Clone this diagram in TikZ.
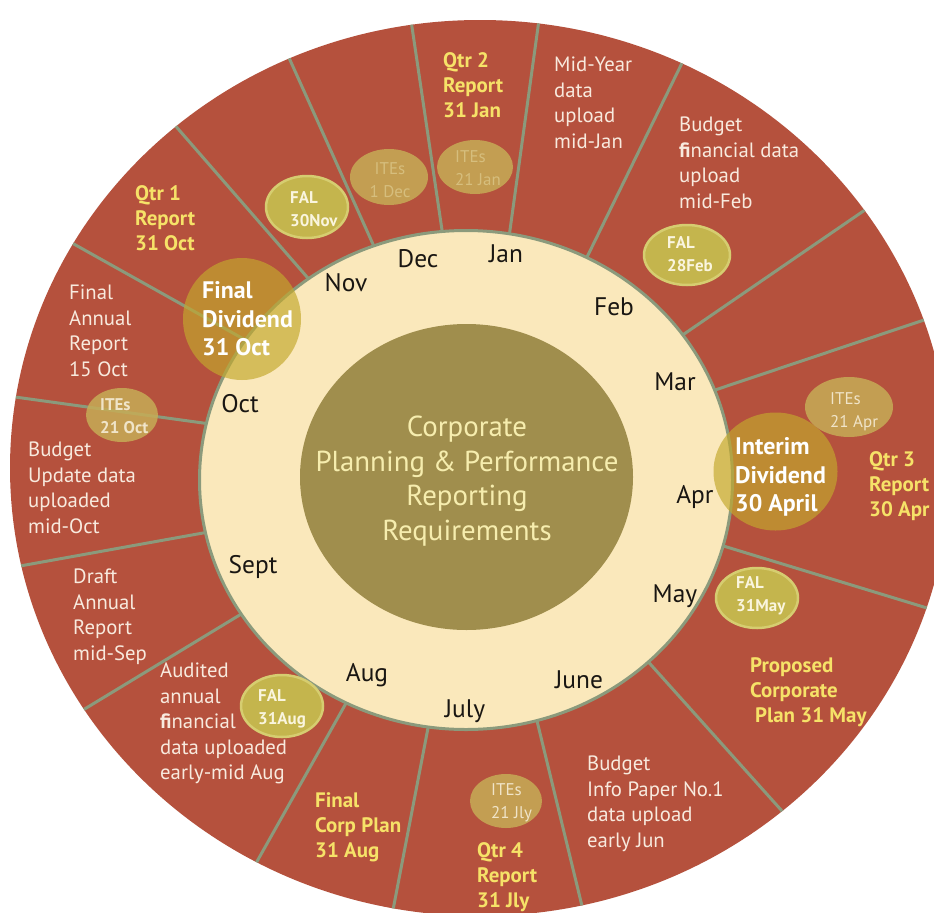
\documentclass[tikz,border=0pt]{standalone}
\usepackage{fontspec}
\setmainfont{PT Sans}
\usetikzlibrary{calc}

\definecolor{brick}{RGB}{181,81,61}
\definecolor{spokegreen}{RGB}{139,154,124}
\definecolor{cream}{RGB}{250,232,187}
\definecolor{olive}{RGB}{160,142,77}
\definecolor{paleyellow}{RGB}{246,237,174}
\definecolor{notewhite}{RGB}{248,234,222}
\definecolor{deadline}{RGB}{246,226,104}
\definecolor{falfill}{RGB}{196,181,77}
\definecolor{falrim}{RGB}{214,205,112}
\definecolor{falink}{RGB}{250,245,222}
\definecolor{itefill}{RGB}{198,172,86}
\definecolor{iteink}{RGB}{240,228,200}
\definecolor{itefaded}{RGB}{214,190,125}
\definecolor{divfill}{RGB}{195,168,45}
\definecolor{monthink}{RGB}{25,22,18}

\tikzset{
  note/.style={anchor=north west, inner sep=0pt, align=left, text=notewhite,
    font=\fontsize{20.8}{25.5}\selectfont},
  due/.style={note, text=deadline, font=\fontsize{21}{25.5}\selectfont\bfseries},
  month/.style={inner sep=0pt, text=monthink, font=\fontsize{25.5}{30}\selectfont,
    text height=17.9bp, text depth=0pt},
  spoke/.style={draw=spokegreen, line width=3bp},
  falbubble/.style={fill=falfill, draw=falrim, line width=2.5bp},
  itebubble/.style={fill=itefill, fill opacity=0.85},
  divbubble/.style={fill=divfill, fill opacity=0.67},
  faltag/.style={anchor=north west, inner sep=0pt, align=left, text=falink,
    font=\fontsize{17}{22.5}\selectfont\bfseries},
  itetag/.style={anchor=north west, inner sep=0pt, align=left, text=iteink,
    font=\fontsize{17}{22.5}\selectfont},
  divtag/.style={anchor=north west, inner sep=0pt, align=left, text=white,
    font=\fontsize{24}{29}\selectfont\bfseries},
}

\begin{document}
\begin{tikzpicture}[x=1bp, y=-1bp]
  \useasboundingbox (0,0) rectangle (934,913);
  \fill[white] (0,0) rectangle (934,913);
  \clip (0,0) rectangle (934,913);

  % outer ring of monthly segments
  \fill[brick] (480,468) ellipse [x radius=470, y radius=448];
  \begin{scope}
    \clip (480,468) ellipse [x radius=470, y radius=448];
    \foreach \ix/\iy/\ox/\oy in {
        442/230/412/27, 510/230/538/27, 589/253/682/63, 687/332/862/212,
        721/388/924/320, 730/548/927/608, 652/666/782/811, 538/725/582/906,
        428/728/393/910, 345/705/255/865, 238/616/83/710, 203/533/20/566,
        203/423/15/397, 240/337/72/243, 307/277/173/123, 372/242/290/60}
      \draw[spoke] ($(\ix,\iy)!-0.1!(\ox,\oy)$) -- ($(\ix,\iy)!1.15!(\ox,\oy)$);
  \end{scope}

  % month ring and hub
  \filldraw[fill=cream, draw=spokegreen, line width=3bp]
    (466,480) ellipse [x radius=266.5, y radius=249.5];
  \fill[olive] (466.5,477) ellipse [x radius=166.5, y radius=153];

  \node[anchor=north, inner sep=0pt, align=center, text=paleyellow,
        font=\fontsize{29}{34.7}\selectfont] (hub) at (467,416)
    {Corporate\\Planning \& Performance\\Reporting\\Requirements};

  % months
  \node[month] (nov)  at (346,283) {Nov};
  \node[month] (dec)  at (418,259) {Dec};
  \node[month] (jan)  at (506,254) {Jan};
  \node[month] (feb)  at (614,307) {Feb};
  \node[month] (mar)  at (675,382) {Mar};
  \node[month] (apr)  at (695,495) {Apr};
  \node[month] (may)  at (675,594) {May};
  \node[month] (jun)  at (579,680) {June};
  \node[month] (jul)  at (465,709) {July};
  \node[month] (aug)  at (367,673) {Aug};
  \node[month] (sep)  at (253,565) {Sept};
  \node[month] (oct)  at (240,404) {Oct};

  % dividend discs
  \fill[divbubble] (242,319) ellipse [x radius=59, y radius=61];
  \fill[divbubble] (775.5,471.5) ellipse [x radius=62, y radius=59];

  % FAL and ITEs bubbles
  \filldraw[falbubble] (307,207) ellipse [x radius=41, y radius=31];
  \filldraw[falbubble] (687,255) ellipse [x radius=43, y radius=30];
  \filldraw[falbubble] (757,598) ellipse [x radius=41, y radius=30];
  \filldraw[falbubble] (282,706) ellipse [x radius=41, y radius=31];
  \fill[itebubble] (389,177) ellipse [x radius=39, y radius=28];
  \fill[itebubble] (475,167) ellipse [x radius=38, y radius=27];
  \fill[itebubble] (122,415) ellipse [x radius=36, y radius=27];
  \fill[itebubble] (849,407) ellipse [x radius=44, y radius=30];
  \fill[itebubble] (506,801) ellipse [x radius=36, y radius=27];

  % bubble labels
  \node[divtag] (finaldiv) at (202,281) {Final\\Dividend\\31 Oct};
  \node[divtag] (interimdiv) at (735,437) {Interim\\Dividend\\30 April};
  \node[faltag] (falnov) at (290,191.7) {FAL\\30Nov};
  \node[faltag] (falfeb) at (667,236.7) {FAL\\28Feb};
  \node[faltag] (falmay) at (736,576.7) {FAL\\31May};
  \node[faltag] (falaug) at (258,689.7) {FAL\\31Aug};
  \node[itetag, anchor=north, align=center, text=itefaded] (itedec) at (390,162.7) {ITEs\\1 Dec};
  \node[itetag, text=itefaded] (itejan) at (455,150.7) {ITEs\\21 Jan};
  \node[itetag, font=\fontsize{17}{22.5}\selectfont\bfseries] (iteoct) at (100,398.7) {ITEs\\21 Oct};
  \node[itetag] (iteapr) at (830,392.7) {ITEs\\21 Apr};
  \node[itetag] (itejly) at (491,783.7) {ITEs\\21 Jly};

  % segment notes
  \node[due]  (qtr2)    at (443,52)  {Qtr 2\\Report\\31 Jan};
  \node[note] (midyear) at (554,57)  {Mid-Year\\data\\upload\\mid-Jan};
  \node[note] (budfeb)  at (679,117) {Budget\\{\bfseries fi}nancial data\\upload\\mid-Feb};
  \node[due]  (qtr3)    at (869,451) {Qtr 3\\Report\\30 Apr};
  \node[due]  (propcp)  at (750,657) {Proposed\\Corporate\\\hspace{5bp}Plan 31 May};
  \node[note] (budjun)  at (587,756) {Budget\\Info Paper No.1\\data upload\\early Jun};
  \node[due]  (qtr4)    at (477,842) {Qtr 4\\Report\\31 Jly};
  \node[due]  (finalcp) at (315,792) {Final\\Corp Plan\\31 Aug};
  \node[note] (audited) at (160,663) {Audited\\annual\\{\bfseries fi}nancial\\data uploaded\\early-mid Aug};
  \node[note] (draftar) at (73,569)  {Draft\\Annual\\Report\\mid-Sep};
  \node[note] (budoct)  at (28,442)  {Budget\\Update data\\uploaded\\mid-Oct};
  \node[note] (finalar) at (69,285)  {Final\\Annual\\Report\\15 Oct};
  \node[due]  (qtr1)    at (135,185) {Qtr 1\\Report\\31 Oct};
\end{tikzpicture}
\end{document}
